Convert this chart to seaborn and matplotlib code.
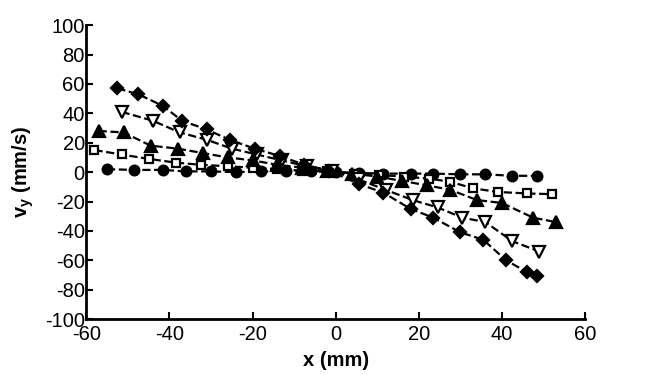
import matplotlib
matplotlib.use("Agg")
import seaborn as sns
from matplotlib import pyplot as plt

# diamonds (filled)
x_diamond = [-52.5, -47.5, -41.5, -37, -31, -25.5, -19.5, -13.5, -7.5, -1.5,
             5.5, 11.5, 18, 23.5, 30, 35.5, 41, 46, 48.5]
y_diamond = [57, 53, 45, 35, 29, 22, 16, 11, 5, 1,
             -8, -14, -25, -31, -41, -46, -60, -68, -71]

# open down-triangles
x_tri_down = [-51.5, -44, -37.5, -31, -25, -19, -13, -7, -1,
              5.5, 12, 18.5, 24.5, 30.5, 36, 42.5, 49]
y_tri_down = [41, 35, 27, 22, 16, 12, 8, 4, 1,
              -5, -12, -19, -24, -31, -34, -47, -54]

# filled up-triangles
x_tri_up = [-57, -51, -44.5, -38, -32, -26, -20, -14, -8, -2,
            4, 10, 16, 22, 27.5, 34, 40, 47.5, 53]
y_tri_up = [28, 27, 18, 16, 13, 10, 8, 5, 3, 1,
            -1, -3, -6, -9, -12, -19, -21, -31, -34]

# open squares
x_square = [-58, -51.5, -45, -38.5, -32.5, -26, -20, -14, -8, -2,
            4.5, 10.5, 16.5, 22.5, 27.5, 33, 39, 46, 52]
y_square = [15, 12, 9, 6.5, 5, 4, 3, 2, 1, 0.5,
            -1, -2, -3, -4.5, -6.5, -11, -13.5, -14.5, -15]

# filled circles
x_circle = [-55, -48.5, -41.5, -36, -30, -24, -18, -12, -6, 0,
            5.5, 11.5, 18, 23.5, 30, 36, 42.5, 48.5]
y_circle = [2, 1.5, 1.5, 0.5, 0.5, 0, 0.5, 0.5, 0.5, 0,
            -0.5, -1, -1, -1, -1.5, -1.5, -2.5, -2.5]

x_ticks = [-60, -40, -20, 0, 20, 40, 60]
y_ticks = [-100, -80, -60, -40, -20, 0, 20, 40, 60, 80, 100]

sns.set_style("ticks")
plt.rcParams["font.family"] = ["Liberation Sans", "DejaVu Sans"]
plt.rcParams["axes.unicode_minus"] = False
plt.rcParams["mathtext.fontset"] = "custom"
plt.rcParams["mathtext.rm"] = "Liberation Sans"
plt.rcParams["mathtext.bf"] = "Liberation Sans:bold"

fig = plt.figure(figsize=(6.48, 3.75), dpi=100)
ax = fig.add_axes([0.133, 0.149, 0.770, 0.784])

series = [
    (x_circle, y_circle, "o", "k", 7),
    (x_square, y_square, "s", "white", 6),
    (x_tri_up, y_tri_up, "^", "k", 8),
    (x_tri_down, y_tri_down, "v", "white", 8),
    (x_diamond, y_diamond, "D", "k", 6.5),
]
for xs, ys, m, fc, ms in series:
    sns.lineplot(x=xs, y=ys, ax=ax, color="k", linestyle="--", linewidth=1.6,
                 marker=m, markersize=ms, markerfacecolor=fc,
                 markeredgecolor="k", markeredgewidth=1.6)

ax.set_xlim(-60, 60)
ax.set_ylim(-100, 100)
ax.set_xticks(x_ticks)
ax.set_yticks(y_ticks)
ax.tick_params(direction="in", length=5, width=1.5, labelsize=14.5,
               colors="k")
ax.tick_params(axis="x", pad=4)
ax.tick_params(axis="y", pad=1)
for side in ["left", "bottom"]:
    ax.spines[side].set_linewidth(2)
    ax.spines[side].set_color("k")
sns.despine(ax=ax)

ax.set_xlabel("x (mm)", fontsize=14.5, fontweight="bold", color="k",
              labelpad=5)
ax.set_ylabel(r"v$_\mathbf{y}$ (mm/s)", fontsize=14.5, fontweight="bold",
              color="k", labelpad=6)

fig.savefig("out.png", dpi=100)
